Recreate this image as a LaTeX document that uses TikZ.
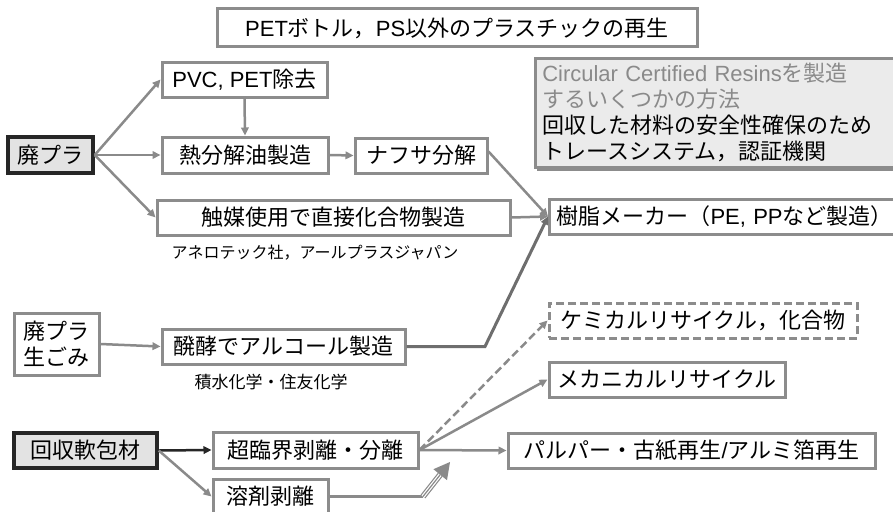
\documentclass[tikz,border=0pt]{standalone}
\usepackage{fontspec}
\setmainfont{Noto Sans CJK JP}
\newfontfamily\lat{Liberation Sans}
\usetikzlibrary{arrows.meta,calc}
\definecolor{boxgray}{HTML}{8C8C8C}
\definecolor{arrgray}{HTML}{8A8A8A}
\definecolor{arrdark}{HTML}{6E6E6E}
\definecolor{graybg}{HTML}{E3E3E3}
\definecolor{circbg}{HTML}{EBEBEB}
\definecolor{txtgray}{HTML}{8A8A8A}
\begin{document}
\begin{tikzpicture}[x=1pt,y=-1pt,
  every node/.style={inner sep=0pt, font=\fontsize{22}{26}\selectfont},
  pbox/.style={draw=boxgray, line width=3pt, fill=white, minimum width=#1, minimum height=35pt},
  gbox/.style={draw=black!85, line width=3.5pt, fill=graybg, minimum width=#1, minimum height=35pt},
  conn/.style={draw=arrgray, line width=2.5pt, -{Triangle[length=8pt,width=7.5pt]}},
  smalltxt/.style={font=\fontsize{16}{20}\selectfont}
]
\useasboundingbox[fill=white] (0,0) rectangle (893,511);

% title
\node[pbox=480, minimum height=38pt] (title) at (457,28) {{\lat PET}ボトル，{\lat PS}以外のプラスチックの再生};

% upper chain
\node[gbox=85, minimum height=36pt] (haipura) at (50.5,155) {廃プラ};
\node[pbox=165] (pvc) at (244.5,79.5) {{\lat PVC, PET}除去};
\node[pbox=166, minimum height=36pt] (netsu) at (245,155) {熱分解油製造};
\node[pbox=132] (nafusa) at (421,155.5) {ナフサ分解};
\node[pbox=353] (shokubai) at (333.5,217.5) {触媒使用で直接化合物製造};
\node[smalltxt] (anero) at (315,253) {アネロテック社，アールプラスジャパン};

% info box
\fill[black!45] (537,61) rectangle (900,171);
\node[draw=boxgray, line width=2.5pt, fill=circbg, anchor=north west, text width=352pt,
      inner xsep=7pt, inner ysep=5pt, align=left, minimum height=109pt] (circ) at (534,57)
  {\textcolor{txtgray}{{\lat Circular Certified Resins}を製造}\\
   \textcolor{txtgray}{するいくつかの方法}\\
   回収した材料の安全性確保のため\\
   トレースシステム，認証機関};

% resin maker
\node[draw=boxgray, line width=3pt, fill=white, anchor=west, text width=338pt,
      inner xsep=7pt, align=left, minimum height=35pt] (jushi) at (548,216.5)
  {樹脂メーカー（{\lat PE, PP}など製造）};

% fermentation
\node[pbox=85, minimum height=62pt, align=left] (namagomi) at (56.5,344) {廃プラ\\生ごみ};
\node[pbox=243] (hakko) at (283.5,346.5) {醗酵でアルコール製造};
\node[font=\fontsize{17}{20}\selectfont] (sekisui) at (271,382) {積水化学・住友化学};

% soft packaging
\node[gbox=143] (kaishu) at (85.5,450.5) {回収軟包材};
\node[pbox=205, minimum height=36pt] (chorin) at (315.5,450) {超臨界剥離・分離};
\node[pbox=115] (yozai) at (270.5,496.5) {溶剤剥離};

% outputs
\node[pbox=308, dashed, dash pattern=on 8pt off 4pt] (chem) at (703,320.5) {ケミカルリサイクル，化合物};
\node[pbox=236] (mecha) at (667,379.5) {メカニカルリサイクル};
\node[pbox=367] (pulper) at (691.5,450.5) {パルパー・古紙再生{\lat /}アルミ箔再生};

% connectors upper
\draw[conn] (haipura.east) -- (pvc.west);
\draw[conn] (haipura.east) -- (netsu.west);
\draw[conn] (haipura.east) -- (shokubai.west);
\draw[conn] (pvc.south) -- (netsu.north);
\draw[conn] (netsu.east) -- (nafusa.west);
\draw[conn] ([yshift=4pt]nafusa.east) -- (jushi.west);
\draw[conn] (shokubai.east) -- (jushi.west);
\coordinate (bend) at (485,346.5);
\draw[conn, draw=arrdark, line width=3pt] (hakko.east) -- (bend) -- (jushi.west);
\draw[conn] (namagomi.east) -- (hakko.west);

% connectors lower
\draw[conn, draw=black!85] (kaishu.east) -- (chorin.west);
\draw[conn] (kaishu.east) -- (yozai.west);
\draw[conn] (chorin.east) -- (pulper.west);
\draw[conn] (chorin.east) -- (mecha.west);
\draw[conn, dashed, dash pattern=on 8pt off 4pt] (chorin.east) -- (chem.west);

% triple arrow
\coordinate (ycorner) at (423,496.5);
\coordinate (ybase) at (440.2,474.7);
\coordinate (ytip) at (450,462);
\draw[arrgray, line width=2.5pt] (yozai.east) -- (ycorner);
\draw[arrgray, line width=6pt] (ycorner) -- (ybase);
\draw[white, line width=3.6pt] (ycorner) -- (ybase);
\draw[arrgray, line width=1.2pt] (ycorner) -- (ybase);
\fill[arrgray] (ytip) -- (447,480.2) -- (433.4,469.2) -- cycle;
\end{tikzpicture}
\end{document}
